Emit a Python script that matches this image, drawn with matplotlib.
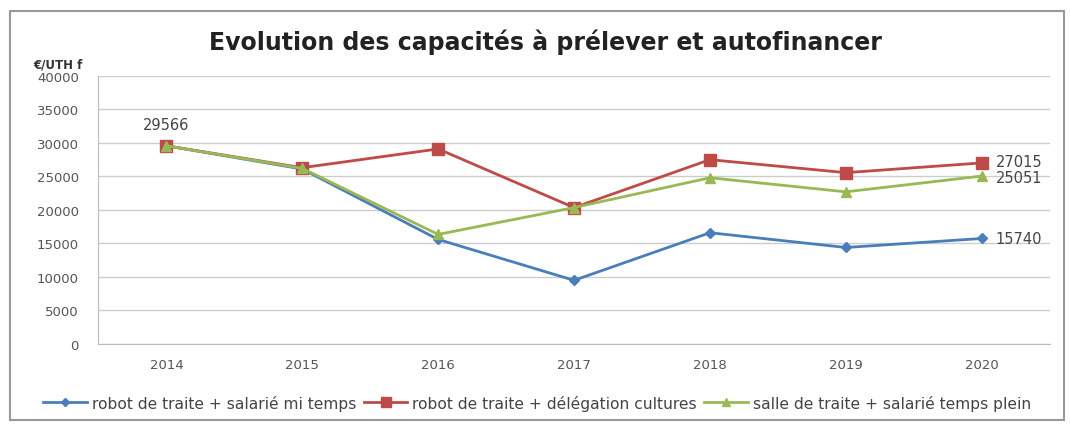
import numpy as np
import matplotlib
matplotlib.use("Agg")
import matplotlib.pyplot as plt
from matplotlib.patches import Rectangle

years = ["2014", "2015", "2016", "2017", "2018", "2019", "2020"]
robot_mi_temps = [29566, 26100, 15600, 9500, 16600, 14400, 15740]
robot_delegation = [29566, 26300, 29100, 20350, 27500, 25560, 27015]
salle_plein = [29566, 26200, 16350, 20350, 24800, 22700, 25051]
series_names = ["robot de traite + salarié mi temps",
                "robot de traite + délégation cultures",
                "salle de traite + salarié temps plein"]

fig = plt.figure(figsize=(10.7, 4.27), dpi=100)
ax = fig.add_axes([0.092, 0.192, 0.889, 0.628])

x = np.arange(len(years))
ax.plot(x, robot_mi_temps, color="#4a7ebb", marker="D", markersize=5, lw=2, label=series_names[0])
ax.plot(x, robot_delegation, color="#be4b48", marker="s", markersize=9, lw=2, label=series_names[1])
ax.plot(x, salle_plein, color="#98b954", marker="^", markersize=7, lw=2, label=series_names[2])

ax.set_xlim(-0.5, len(years) - 0.5)
ax.set_ylim(0, 40000)
ax.set_yticks(range(0, 40001, 5000))
ax.set_xticks(x)
ax.set_xticklabels(years)
ax.tick_params(axis="both", labelsize=9.5, colors="#555555", length=0)
ax.tick_params(axis="x", pad=10)
ax.tick_params(axis="y", pad=14)
ax.grid(axis="y", color="#cccccc", lw=1)
ax.set_axisbelow(True)
for s in ["top", "right"]:
    ax.spines[s].set_visible(False)
ax.spines["left"].set_color("#bbbbbb")
ax.spines["bottom"].set_color("#bbbbbb")

# data labels
lbl = dict(fontsize=10.5, color="#444444", textcoords="offset points")
ax.annotate(str(robot_mi_temps[0]), (x[0], robot_mi_temps[0]), xytext=(0, 12), ha="center", **lbl)
ax.annotate(str(robot_delegation[-1]), (x[-1], robot_delegation[-1]), xytext=(10, 1), va="center", **lbl)
ax.annotate(str(salle_plein[-1]), (x[-1], salle_plein[-1]), xytext=(10, -1), va="center", **lbl)
ax.annotate(str(robot_mi_temps[-1]), (x[-1], robot_mi_temps[-1]), xytext=(10, 0), va="center", **lbl)

fig.text(0.51, 0.9, "Evolution des capacités à prélever et autofinancer",
         ha="center", va="center", fontsize=17, fontweight="bold", color="#222222")
fig.text(0.031, 0.848, "€/UTH f", ha="left", va="center", fontsize=8.5,
         fontweight="bold", color="#333333")

fig.legend(loc="center", bbox_to_anchor=(0.502, 0.054), ncol=3, frameon=False,
           fontsize=11.2, handlelength=2.8, columnspacing=0.5, handletextpad=0.3,
           labelcolor="#444444", markerscale=0.8)

fig.patches.append(Rectangle((0.009, 0.015), 0.985, 0.957, transform=fig.transFigure,
                             fill=False, edgecolor="#999999", lw=1.5))

fig.savefig("out.png", dpi=100)
